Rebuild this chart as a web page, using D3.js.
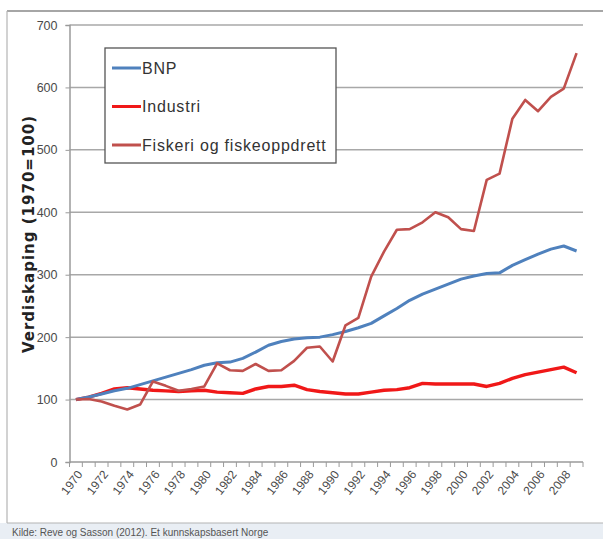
<!DOCTYPE html>
<html>
<head>
<meta charset="utf-8">
<script src="https://cdn.jsdelivr.net/npm/d3@7"></script>
<style>
    body { margin: 0; background: #fff; }
    svg { display: block; }
</style>
</head>
<body>
<svg id="chart" width="603" height="539"></svg>
<script>
    const years = d3.range(1970, 2010)
    const yTicks = [0, 100, 200, 300, 400, 500, 600, 700]

    const bnp = [100, 104, 109, 114, 118, 124, 130, 136, 142, 148,
        155, 159, 160, 166, 176, 187, 193, 197, 199, 200,
        204, 209, 215, 222, 234, 246, 259, 269, 277, 285,
        293, 298, 302, 303, 315, 324, 333, 341, 346, 338]

    const industri = [100, 104, 110, 117, 119, 117, 115, 114, 113, 114,
        115, 112, 111, 110, 117, 121, 121, 123, 116, 113,
        111, 109, 109, 112, 115, 116, 119, 126, 125, 125,
        125, 125, 121, 126, 134, 140, 144, 148, 152, 143]

    const fiskeri = [100, 101, 97, 90, 84, 92, 129, 122, 114, 117,
        121, 158, 147, 146, 157, 146, 147, 162, 183, 185,
        161, 219, 231, 297, 337, 372, 373, 384, 400, 392,
        373, 370, 452, 462, 550, 580, 562, 585, 598, 655]

    const seriesNames = ["BNP", "Industri", "Fiskeri og fiskeoppdrett"]
    const seriesColors = ["#4f81bd", "#f01818", "#c0504d"]
    const seriesWidths = [3, 3.4, 2.6]
    const seriesData = [bnp, industri, fiskeri]

    const svg = d3.select("#chart")

    // panel frame + source strip
    svg.append("rect").attr("x", 0).attr("y", 523).attr("width", 603).attr("height", 16)
        .attr("fill", "#e9eef4")
    svg.append("line").attr("x1", 7).attr("x2", 603).attr("y1", 11).attr("y2", 11)
        .attr("stroke", "#a6a6a6").attr("stroke-width", 2)
    svg.append("line").attr("x1", 7).attr("x2", 7).attr("y1", 11).attr("y2", 523)
        .attr("stroke", "#b4b4b4").attr("stroke-width", 1.2)
    svg.append("line").attr("x1", 7).attr("x2", 603).attr("y1", 523).attr("y2", 523)
        .attr("stroke", "#b4b4b4").attr("stroke-width", 1.2)
    svg.append("text").attr("x", 12).attr("y", 535.5)
        .attr("font-family", "Liberation Sans, Arial, sans-serif").attr("font-size", 10)
        .attr("fill", "#555").text("Kilde: Reve og Sasson (2012). Et kunnskapsbasert Norge")

    const x = d3.scaleBand().domain(years).range([69.5, 583])
    const y = d3.scaleLinear().domain([0, 700]).range([462, 25])
    const cx = d => x(d) + x.bandwidth() / 2

    // gridlines
    svg.append("g").selectAll("line")
        .data(yTicks.filter(d => d > 0))
        .enter().append("line")
        .attr("x1", 69.5).attr("x2", 583)
        .attr("y1", d => y(d)).attr("y2", d => y(d))
        .attr("stroke", "#a8a8a8").attr("stroke-width", 1.5)

    // y axis
    const yAxis = svg.append("g").attr("transform", "translate(69.5,0)")
        .call(d3.axisLeft(y).tickValues(yTicks).tickSize(4).tickPadding(8))
    yAxis.select(".domain").attr("stroke", "#9a9a9a").attr("stroke-width", 1.5)
    yAxis.selectAll(".tick line").attr("stroke", "#9a9a9a")
    yAxis.selectAll("text").attr("font-family", "Liberation Sans, Arial, sans-serif")
        .attr("font-size", 12.5).attr("fill", "#4a4a4a")

    // x axis: ticks on category boundaries
    const xAxis = svg.append("g")
    xAxis.append("line").attr("x1", 69.5).attr("x2", 583).attr("y1", 462).attr("y2", 462)
        .attr("stroke", "#9a9a9a").attr("stroke-width", 1.5)
    xAxis.selectAll(".tk").data(years.concat([2010]))
        .enter().append("line").attr("class", "tk")
        .attr("x1", d => d === 2010 ? 583 : x(d)).attr("x2", d => d === 2010 ? 583 : x(d))
        .attr("y1", 462).attr("y2", 467)
        .attr("stroke", "#9a9a9a").attr("stroke-width", 1)
    xAxis.selectAll(".lbl").data(years.filter(d => d % 2 === 0))
        .enter().append("text").attr("class", "lbl")
        .attr("transform", d => `translate(${cx(d) + 4},${472}) rotate(-52)`)
        .attr("text-anchor", "end").attr("dy", "0.35em")
        .attr("font-family", "Liberation Sans, Arial, sans-serif").attr("font-size", 12)
        .attr("fill", "#4a4a4a")
        .text(d => d)

    // y title
    svg.append("text")
        .attr("transform", "translate(29,234) rotate(-90)")
        .attr("text-anchor", "middle").attr("dy", "0.35em")
        .attr("font-family", "DejaVu Sans, Verdana, sans-serif").attr("font-weight", "bold")
        .attr("font-size", 15).attr("letter-spacing", 1).attr("fill", "#222")
        .text("Verdiskaping (1970=100)")

    // lines
    const line = d3.line()
        .x((d, i) => cx(years[i]))
        .y(d => y(d))

    svg.append("g").attr("fill", "none").attr("stroke-linejoin", "round")
        .selectAll("path")
        .data([industri, bnp, fiskeri])
        .enter().append("path")
        .attr("stroke", d => seriesColors[seriesData.indexOf(d)])
        .attr("stroke-width", d => seriesWidths[seriesData.indexOf(d)])
        .attr("d", line)

    // legend
    const legend = svg.append("g")
    legend.append("rect").attr("x", 105).attr("y", 48).attr("width", 231).attr("height", 115)
        .attr("fill", "#fff").attr("stroke", "#555").attr("stroke-width", 1.3)
    const item = legend.selectAll(".item").data(seriesNames)
        .enter().append("g").attr("class", "item")
        .attr("transform", (d, i) => `translate(112,${68 + i * 38.5})`)
    item.append("line").attr("x1", 0).attr("x2", 29)
        .attr("stroke", (d, i) => seriesColors[i]).attr("stroke-width", 3)
    item.append("text").attr("x", 30).attr("dy", "0.35em")
        .attr("font-family", "Liberation Sans, Arial, sans-serif").attr("font-size", 16)
        .attr("letter-spacing", 0.8).attr("fill", "#333")
        .text(d => d)
</script>
</body>
</html>
